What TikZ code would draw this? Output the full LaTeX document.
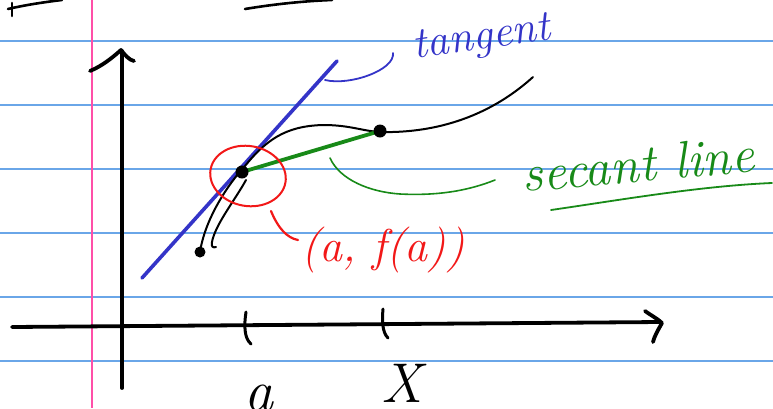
\documentclass[tikz,border=0pt]{standalone}
\usepackage{fontspec}
\setmainfont{Latin Modern Roman}
\definecolor{rule}{HTML}{6AA6E8}
\definecolor{margin}{HTML}{FF4FA8}
\definecolor{tanblue}{HTML}{3434C8}
\definecolor{secgreen}{HTML}{188A18}
\definecolor{penred}{HTML}{F21818}
\tikzset{
  ruled/.style={rule, line width=1.2pt},
  pen/.style={black, line width=2pt, line cap=round, line join=round},
  heavy/.style={black, line width=3.8pt, line cap=round, line join=round},
  hand/.style={font=\itshape, inner sep=0pt},
  dot/.style={circle, fill=black, inner sep=0pt, minimum size=13pt}
}
\begin{document}
\begin{tikzpicture}[x=1pt,y=-1pt]
\useasboundingbox (0,0) rectangle (773,408);
\fill[white] (0,0) rectangle (773,408);
% ruled paper
\foreach \yy in {41,105,169,233,297,361}
  \draw[ruled] (0,\yy) -- (773,\yy);
\draw[margin, line width=1.2pt] (92,0) -- (92,408);
% stray strokes at top
\draw[pen, line width=2.6pt] (8,9) .. controls (25,5) and (45,2) .. (62,0);
\draw[pen, line width=2.6pt] (12,3) -- (12,16);
\draw[pen, line width=2.6pt] (245,9) .. controls (275,4) and (305,1) .. (332,0);
% axes
\draw[heavy] (122,388) -- (122,51);
\draw[heavy] (90,71) .. controls (102,66) and (112,58) .. (121,50) .. controls (125,55) and (129,60) .. (134,61);
\draw[heavy] (12,327) -- (660,322);
\draw[heavy] (645,311) .. controls (652,316) and (658,319) .. (662,323) .. controls (658,330) and (654,337) .. (653,342);
% ticks
\draw[pen, line width=3pt] (246,312) .. controls (244,325) and (244,338) .. (251,344);
\draw[pen, line width=3pt] (383,309) .. controls (382,320) and (382,332) .. (388,338);
\node[hand, font=\fontsize{58}{58}\selectfont\itshape] (la) at (259,398) {a};
\node[hand, font=\fontsize{56}{56}\selectfont\itshape] (lx) at (402,383) {X};
% tangent line
\draw[tanblue, line width=3.6pt, line cap=round] (142,278) -- (337,61);
\draw[tanblue, line width=1.8pt, line cap=round] (325,80) .. controls (350,86) and (395,70) .. (393,53);
\node[hand, tanblue, font=\fontsize{44}{44}\selectfont\itshape, rotate=8] (ltan) at (482,40) {tangent};
% curve
\draw[pen] (241,171) .. controls (265,140) and (285,126) .. (323,125)
  .. controls (350,125) and (362,131) .. (380,132)
  .. controls (420,133) and (480,125) .. (533,77);
\draw[pen] (238,174) .. controls (225,190) and (205,220) .. (200,252);
\draw[pen] (246,180) .. controls (235,200) and (215,225) .. (212,242) .. controls (211,247) and (213,248) .. (216,247);
% secant
\draw[secgreen, line width=3.8pt, line cap=round] (242,172) -- (380,131);
\draw[secgreen, line width=1.6pt, line cap=round] (330,158) .. controls (340,180) and (370,192) .. (400,194) .. controls (440,196) and (470,190) .. (495,180);
\node[hand, secgreen, font=\fontsize{52}{52}\selectfont\itshape, rotate=5] (lsec) at (638,164) {secant line};
\draw[secgreen, line width=1.8pt, line cap=round] (551,210) .. controls (620,200) and (700,186) .. (772,183);
% points
\node[dot] (pa) at (242,172) {};
\node[dot] (px) at (380,131) {};
\node[dot, minimum size=11pt] (pl) at (200,252) {};
% red circle and label
\draw[penred, line width=2pt, rotate around={-10:(248,176)}] (248,176) ellipse [x radius=38pt, y radius=30pt];
\draw[penred, line width=2.2pt, line cap=round] (271,211) .. controls (278,228) and (287,238) .. (298,240);
\node[hand, penred, font=\fontsize{46}{46}\selectfont\itshape] (lpt) at (383,250) {(a, f(a))};
\end{tikzpicture}
\end{document}
